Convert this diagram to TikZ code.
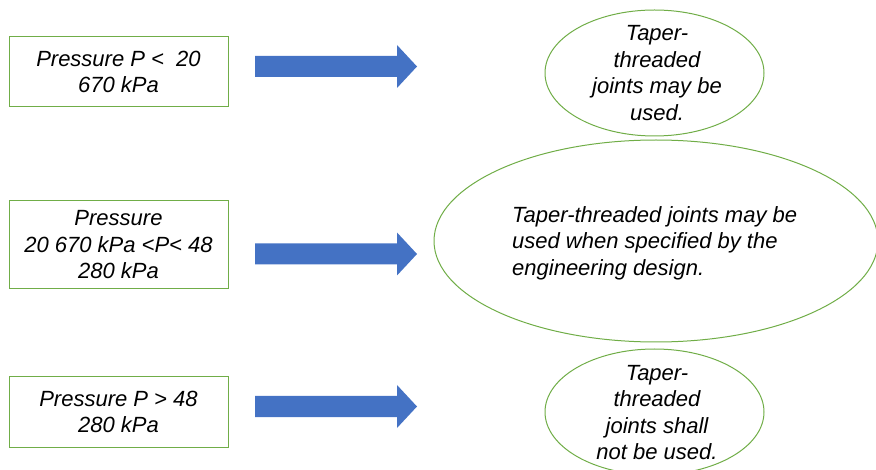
\documentclass[tikz,border=0pt]{standalone}
\usepackage{fontspec}
\setmainfont{Liberation Sans}
\usetikzlibrary{shapes.geometric}
\definecolor{boxgreen}{HTML}{70AD47}
\definecolor{arrowblue}{HTML}{4472C4}
\tikzset{
  condbox/.style={draw=boxgreen, line width=1pt, rectangle, inner sep=0pt,
    minimum width=219pt, align=center, font=\fontsize{22}{26.5}\selectfont\itshape},
  resell/.style={draw=boxgreen, line width=1pt, ellipse, inner sep=0pt},
  restext/.style={inner sep=0pt, font=\fontsize{22}{26.5}\selectfont\itshape},
  bluearrow/.style={fill=arrowblue}
}
\newcommand{\blockarrow}[1]{% #1 = centre y
  \fill[bluearrow] (255,#1-10.5) -- (397,#1-10.5) -- (397,#1-21.5) -- (417,#1)
    -- (397,#1+21.5) -- (397,#1+10.5) -- (255,#1+10.5) -- cycle;}
\begin{document}
\begin{tikzpicture}[x=1pt,y=-1pt]
\useasboundingbox (0,0) rectangle (876,470);
% condition boxes
\node[condbox, minimum height=70pt] (b1) at (118.5,72) {Pressure P < \ 20\\670 kPa};
\node[condbox, minimum height=88pt] (b2) at (118.5,245) {Pressure\\20 670 kPa <P< 48\\280 kPa};
\node[condbox, minimum height=70pt] (b3) at (118.5,412) {Pressure P > 48\\280 kPa};
% block arrows
\blockarrow{66.5}
\blockarrow{254}
\blockarrow{406.5}
% result ellipses
\node[resell, minimum width=219pt, minimum height=126pt] (e1) at (654.5,73) {};
\node[resell, minimum width=444pt, minimum height=202pt] (e2) at (656,241) {};
\node[resell, minimum width=219pt, minimum height=126pt] (e3) at (654.5,412) {};
\node[restext, align=center] (t1) at (657,73) {Taper-\\threaded\\joints may be\\used.};
\node[restext, align=left, anchor=west] (t2) at (512,243) {Taper-threaded joints may be\\used when specified by the\\engineering design.};
\node[restext, align=center] (t3) at (657,412.5) {Taper-\\threaded\\joints shall\\not be used.};
\end{tikzpicture}
\end{document}
